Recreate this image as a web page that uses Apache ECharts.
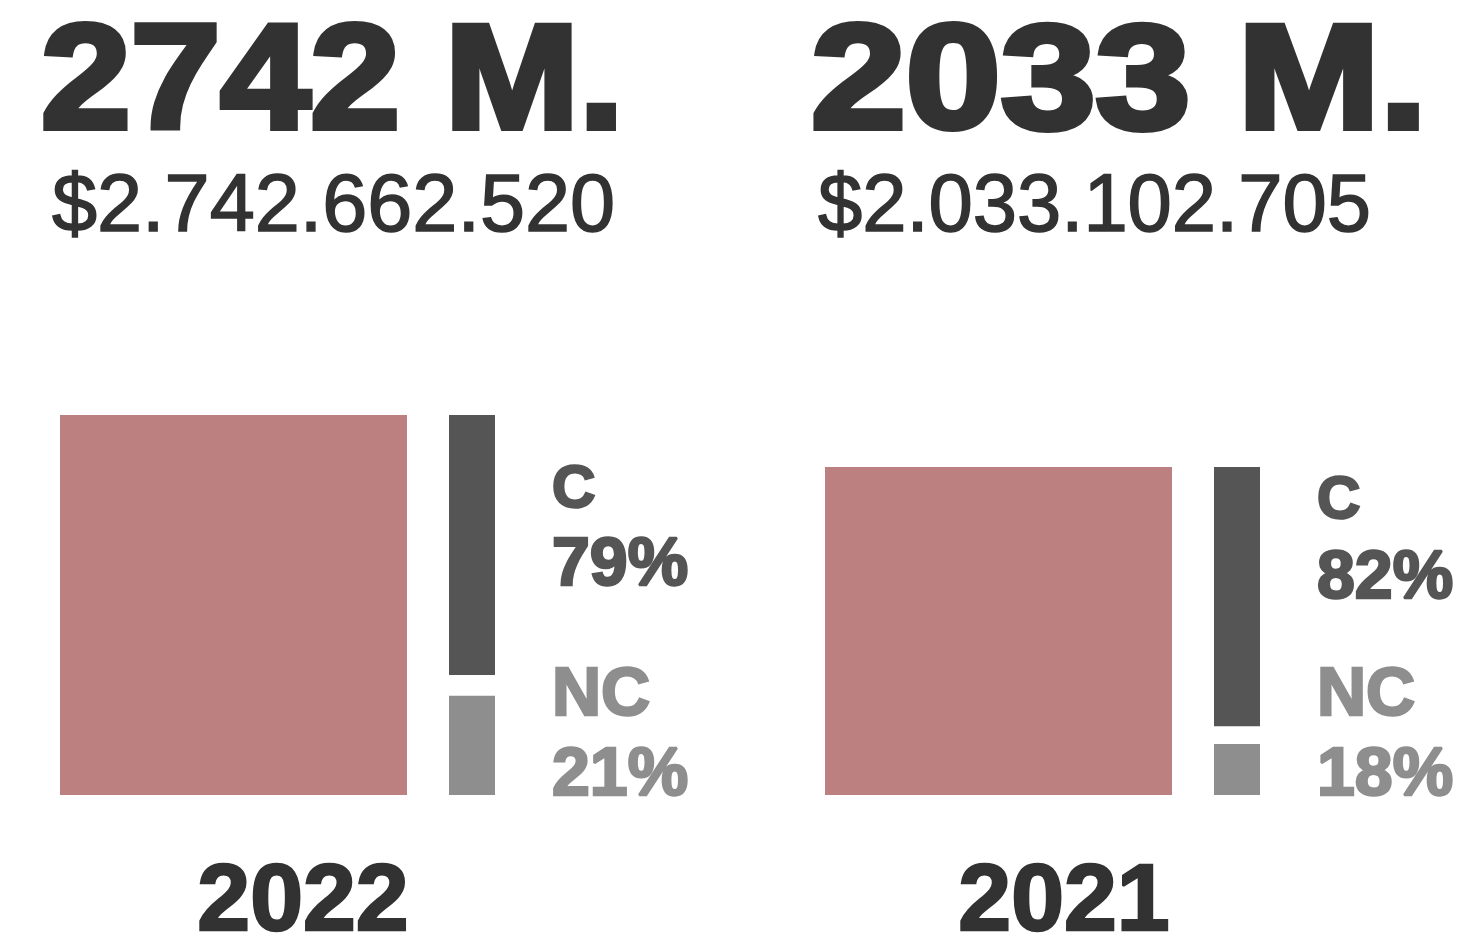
<!DOCTYPE html>
<html>
<head>
<meta charset="utf-8">
<script src="https://cdn.jsdelivr.net/npm/echarts@6/dist/echarts.min.js"></script>
<style>
  html, body { margin: 0; padding: 0; background: #fff; }
  #chart { width: 1465px; height: 939px; }
</style>
</head>
<body>
<div id="chart"></div>
<script>
// datos
var years = ['2022', '2021'];
var totalsM = [2742, 2033];
var totalsFull = ['$2.742.662.520', '$2.033.102.705'];
var cPct = [79, 82];
var ncPct = [21, 18];
// largo de las barras tal como se ven (en % de la caja mas alta)
var boxLen = [100, 86.3];
var cLen = [68.4, 68.2];
var gapLen = [5.5, 4.7];
var ncLen = [26.1, 13.4];

var colorText = '#323232';
var colorBox = '#bc8080';
var colorC = '#555555';
var colorNC = '#8e8e8e';
var font = 'Liberation Sans';

// posiciones de cada panel
var panels = [
    { box: 60, bar: 449, big: 41, bigScale: 1.09, small: 52, smallScale: 1, lab: 552, year: 303, cY: 490, cpY: 566 },
    { box: 825, bar: 1214, big: 811, bigScale: 1.152, small: 818, smallScale: 0.982, lab: 1317, year: 1064, cY: 501, cpY: 579 }
];

var grids = [], xAxes = [], yAxes = [], series = [], graphics = [];

function label(x, y, text, color, size, w, sx) {
    return {
        type: 'text', x: x, y: y, scaleX: sx || 1,
        style: {
            text: text, fill: color, stroke: color, lineWidth: w,
            verticalAlign: 'middle',
            font: 'bold ' + size + 'px "' + font + '"'
        }
    };
}

for (var i = 0; i < years.length; i++) {
    var p = panels[i];
    grids.push({ left: p.box, width: 347, top: 415, height: 380 });
    grids.push({ left: p.bar, width: 46, top: 415, height: 380 });
    for (var g = 0; g < 2; g++) {
        var gi = i * 2 + g;
        xAxes.push({ type: 'category', gridIndex: gi, data: [years[i]], show: false });
        yAxes.push({ type: 'value', gridIndex: gi, min: 0, max: 100, show: false });
    }
    series.push({
        type: 'bar', xAxisIndex: i * 2, yAxisIndex: i * 2,
        data: [boxLen[i]], barWidth: '100%', itemStyle: { color: colorBox },
        silent: true
    });
    series.push({
        type: 'bar', stack: 's' + i, xAxisIndex: i * 2 + 1, yAxisIndex: i * 2 + 1,
        data: [ncLen[i]], barWidth: '100%', itemStyle: { color: colorNC }, silent: true
    });
    series.push({
        type: 'bar', stack: 's' + i, xAxisIndex: i * 2 + 1, yAxisIndex: i * 2 + 1,
        data: [gapLen[i]], barWidth: '100%', itemStyle: { color: 'rgba(0,0,0,0)' }, silent: true
    });
    series.push({
        type: 'bar', stack: 's' + i, xAxisIndex: i * 2 + 1, yAxisIndex: i * 2 + 1,
        data: [cLen[i]], barWidth: '100%', itemStyle: { color: colorC }, silent: true
    });

    graphics.push(label(p.big, 87, totalsM[i] + ' M.', colorText, 148, 6, p.bigScale));
    graphics.push({
        type: 'text', x: p.small, y: 209, scaleX: p.smallScale,
        style: {
            text: totalsFull[i], fill: colorText, stroke: colorText, lineWidth: 1.5,
            verticalAlign: 'middle', font: 'normal 81px "' + font + '"'
        }
    });
    graphics.push(label(p.lab, p.cY, 'C', colorC, 60, 2.5));
    graphics.push(label(p.lab, p.cpY, cPct[i] + '%', colorC, 68, 2.5));
    graphics.push(label(p.lab, 696, 'NC', colorNC, 68, 2.5));
    graphics.push(label(p.lab, 776, ncPct[i] + '%', colorNC, 68, 2.5));
    var yl = label(p.year, 904, years[i], colorText, 95, 2.5);
    yl.style.align = 'center';
    graphics.push(yl);
}

var chart = echarts.init(document.getElementById('chart'));
chart.setOption({
    animation: false,
    grid: grids,
    xAxis: xAxes,
    yAxis: yAxes,
    series: series,
    graphic: graphics
});
</script>
</body>
</html>
